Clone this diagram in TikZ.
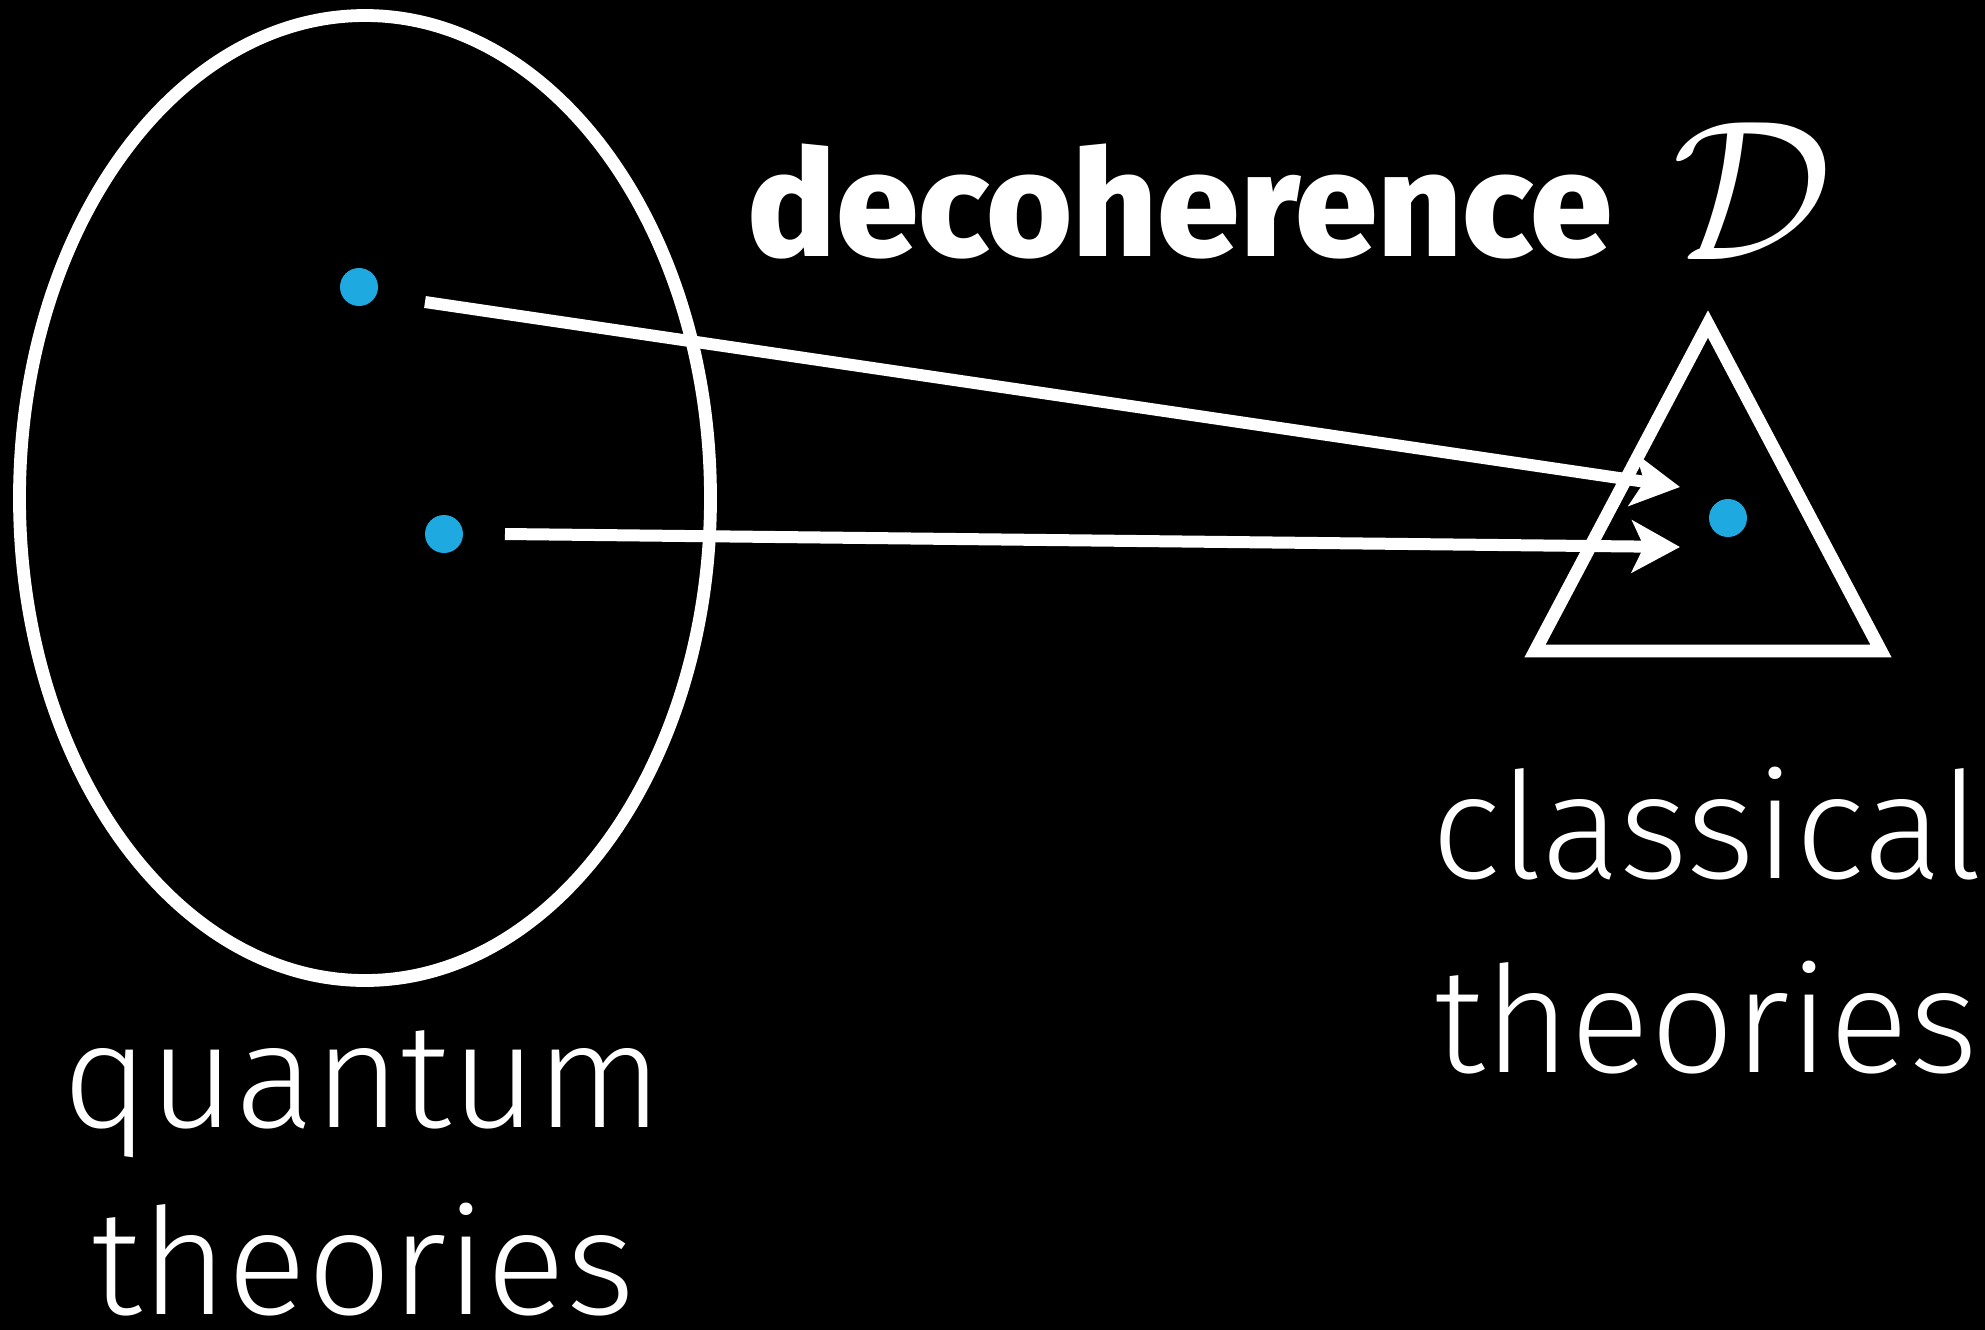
\documentclass[tikz,border=0pt]{standalone}
\usepackage{fontspec}
\setmainfont{Fira Sans}
\newfontfamily\lightfont{Fira Sans Light}
\newfontfamily\heavyfont{Fira Sans ExtraBold}
\usetikzlibrary{shapes.geometric,arrows.meta}
\definecolor{dotblue}{RGB}{30,170,225}
\begin{document}
\begin{tikzpicture}[x=0.25pt,y=-0.25pt,
  outline/.style={draw=white, line width=3.2pt},
  dotnode/.style={circle, fill=dotblue, minimum size=9.5pt, inner sep=0pt},
  arr/.style={draw=white, line width=3pt, -{Stealth[length=12pt, width=13pt, inset=3pt]}},
  lbl/.style={text=white, font=\lightfont\fontsize{37}{44}\selectfont, anchor=base, inner sep=0pt}]
\fill[black] (0,0) rectangle (1985,1330);
\useasboundingbox (0,0) rectangle (1985,1330);
% quantum set
\node[ellipse, outline, minimum width=172.75pt, minimum height=241.25pt, inner sep=0pt] (Q) at (365,498) {};
% classical set
\coordinate (T1) at (1708,324);
\coordinate (T2) at (1535,651);
\coordinate (T3) at (1881,651);
\draw[outline, line join=miter] (T1) -- (T2) -- (T3) -- cycle;
% dots
\node[dotnode] (d1) at (359,287) {};
\node[dotnode] (d2) at (444,534) {};
\node[dotnode] (d3) at (1728,518) {};
% arrows
\coordinate (s1) at (425,302);
\coordinate (e1) at (1680,487);
\coordinate (s2) at (505,534);
\coordinate (e2) at (1680,547);
\draw[arr] (s1) -- (e1);
\draw[arr] (s2) -- (e2);
% labels
\node[lbl, font=\heavyfont\fontsize{37}{44}\selectfont] (dec) at (1180,256) {decoherence};
\node[text=white, anchor=base, inner sep=0pt, scale=5] (D) at (1752,259) {$\mathcal{D}$};
\node[lbl] (cl1) at (1707,878) {classical};
\node[lbl] (cl2) at (1706,1072) {theories};
\node[lbl] (qu1) at (363,1127) {quantum};
\node[lbl] (qu2) at (363,1314) {theories};
\end{tikzpicture}
\end{document}
